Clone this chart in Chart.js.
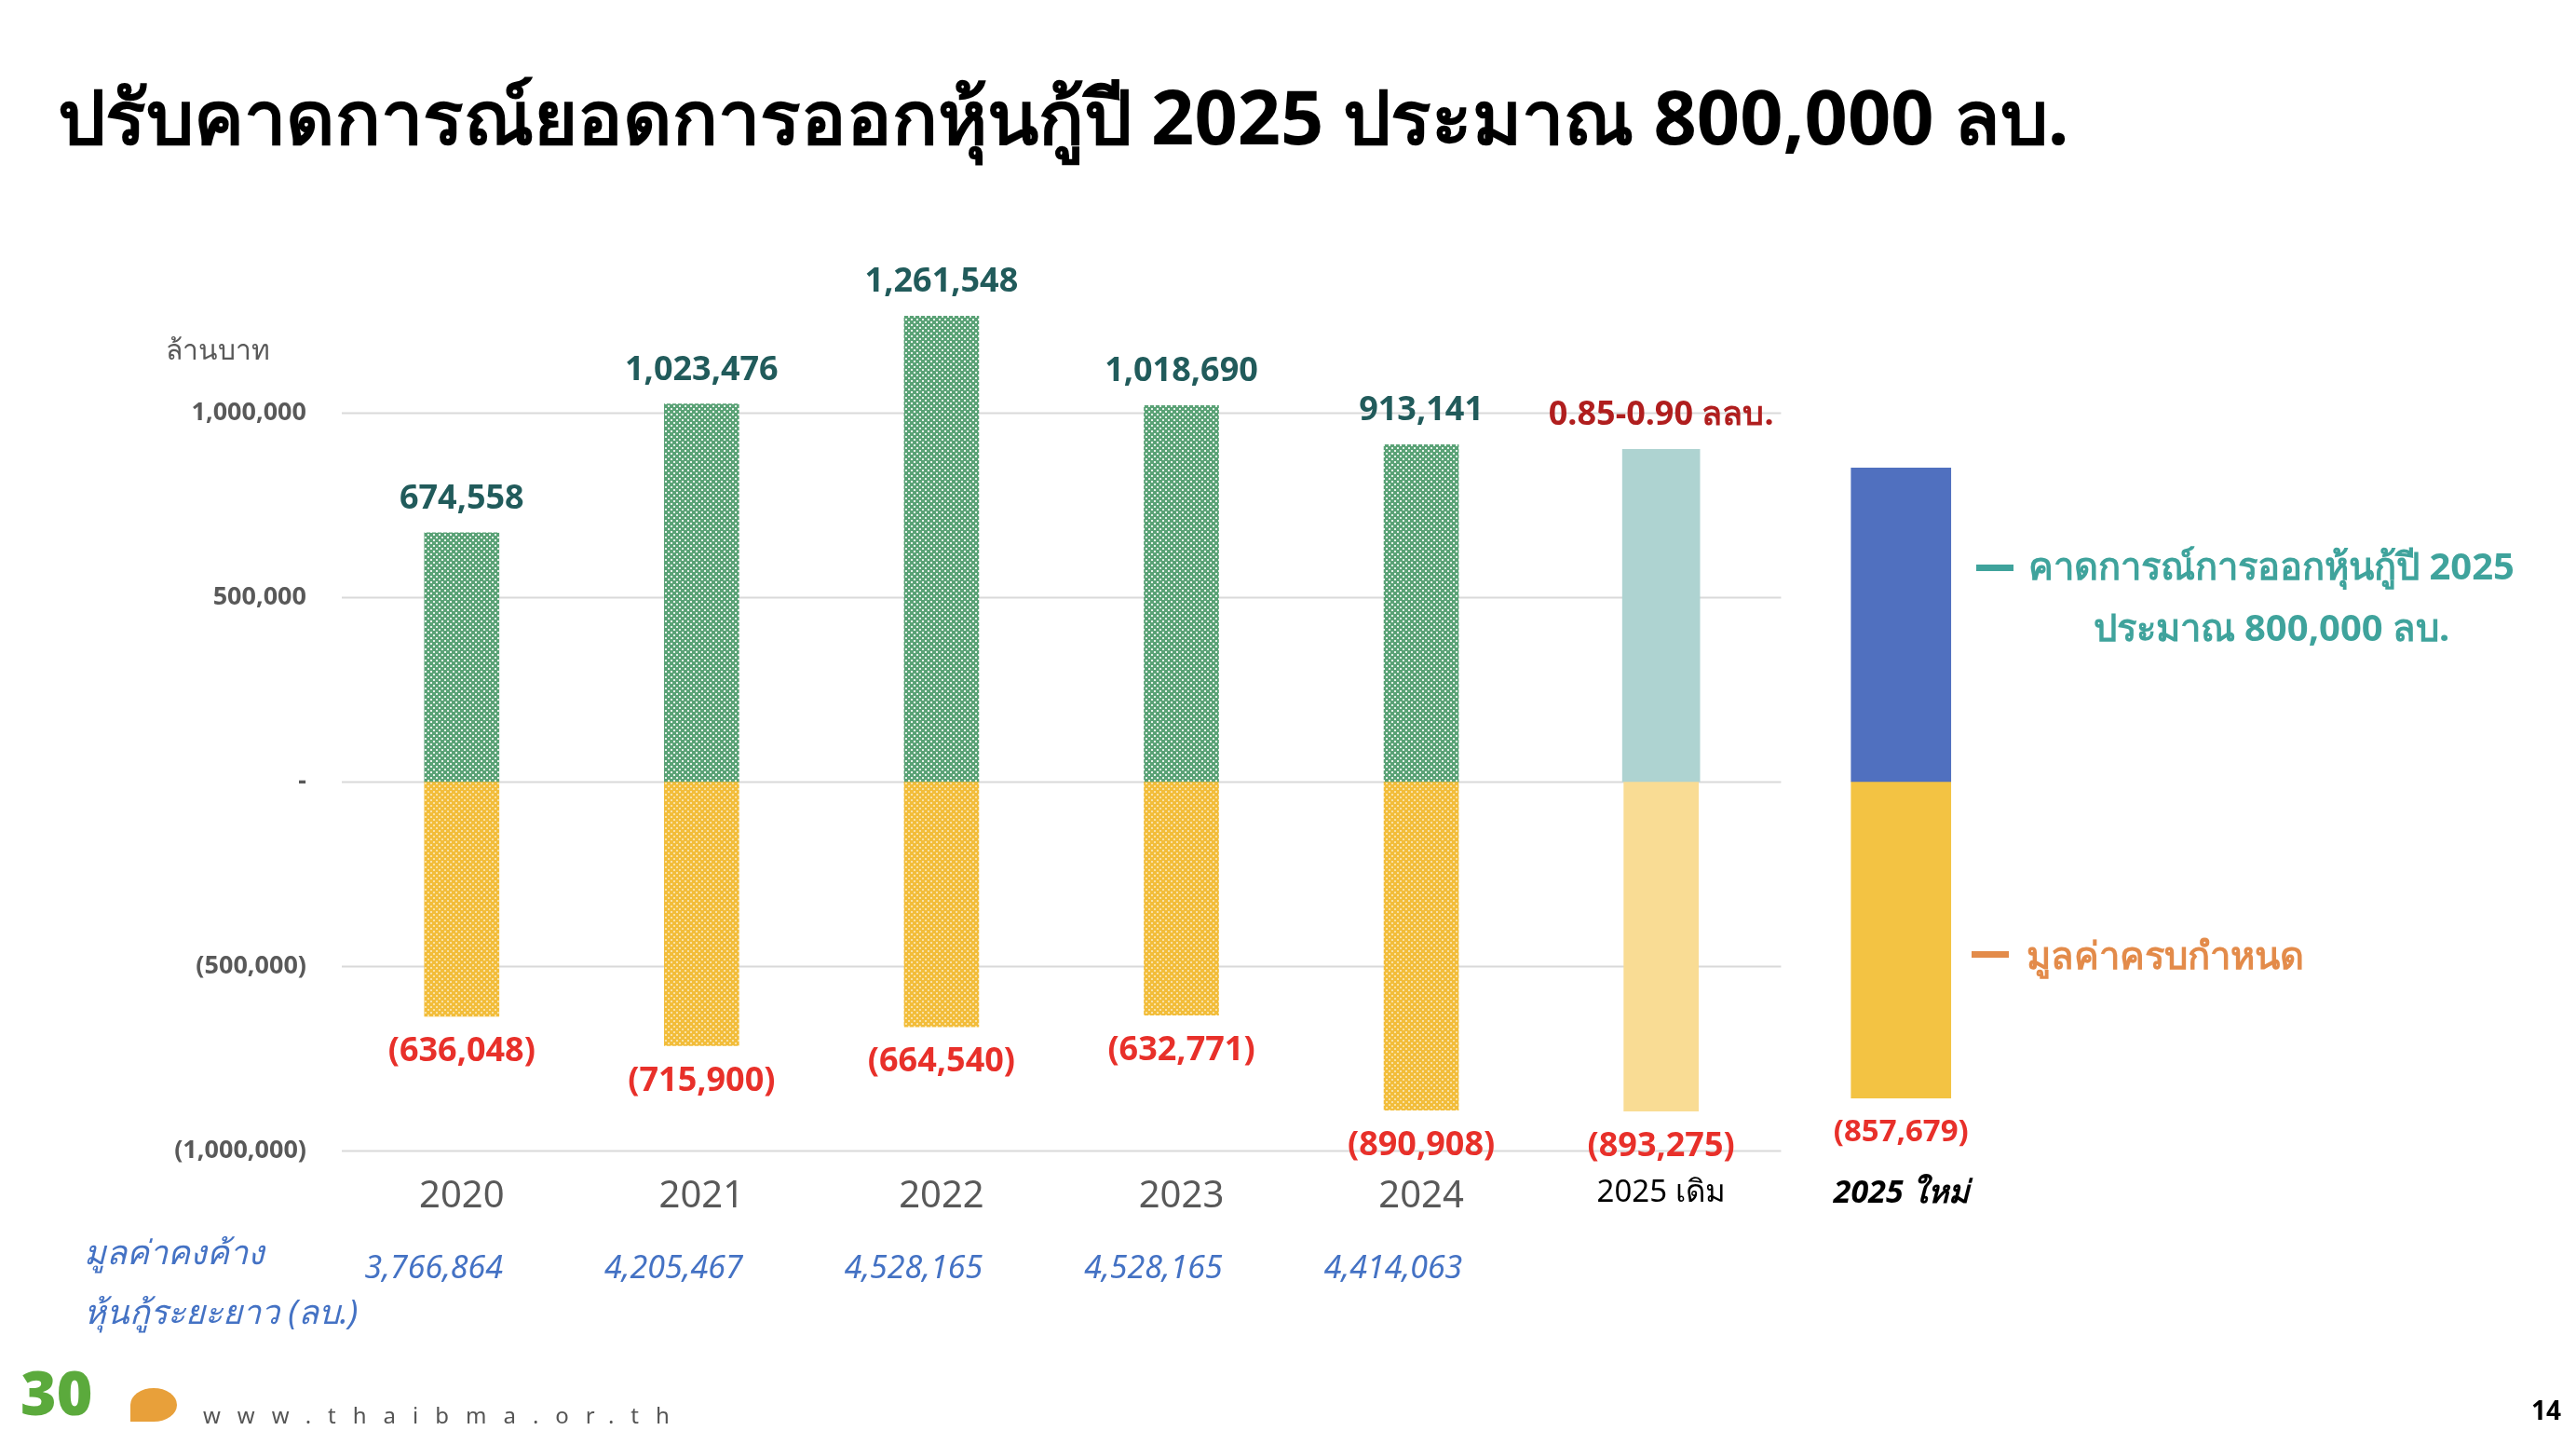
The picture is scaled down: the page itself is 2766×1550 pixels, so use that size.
<!DOCTYPE html>
<html><head><meta charset="utf-8">
<script src="https://cdn.jsdelivr.net/npm/chart.js@4"></script>
<style>
html,body{margin:0;padding:0;background:#fff;width:2766px;height:1550px;overflow:hidden;font-family:"Noto Sans",sans-serif}
#wrap{position:absolute;left:0;top:0;width:2766px;height:1550px}
.t{position:absolute;white-space:nowrap}
</style></head><body>
<div id="wrap"><canvas id="c" width="2766" height="1550"></canvas></div>
<div class="t" style="left:62px;top:62px;font-size:81px;font-weight:700;color:#000">ปรับคาดการณ์ยอดการออกหุ้นกู้ปี 2025 ประมาณ 800,000 ลบ.</div>
<div class="t" style="left:178px;top:352px;font-size:30px;color:#595959">ล้านบาท</div>
<div class="t" style="left:90px;top:1312px;font-size:36px;font-style:italic;color:#4472C4;line-height:64px">มูลค่าคงค้าง<br>หุ้นกู้ระยะยาว (ลบ.)</div>
<div class="t" style="left:2122px;top:606px;width:40px;height:7px;background:#3FA39C"></div>
<div class="t" style="left:2178px;top:574px;font-size:40px;font-weight:700;color:#3FA39C;line-height:66px;text-align:center">คาดการณ์การออกหุ้นกู้ปี 2025<br>ประมาณ 800,000 ลบ.</div>
<div class="t" style="left:2117px;top:1021px;width:40px;height:7px;background:#E38B4A"></div>
<div class="t" style="left:2176px;top:994px;font-size:40px;font-weight:700;color:#E38B4A">มูลค่าครบกำหนด</div>
<div class="t" style="left:22px;top:1448px;font-size:66px;font-weight:900;color:#5BAA3C">30</div>
<div class="t" style="left:140px;top:1490px;width:50px;height:36px;border-radius:50% 50% 50% 0;background:#E8A03A"></div>
<div class="t" style="left:218px;top:1502px;font-size:24px;color:#555;letter-spacing:18px">www.thaibma.or.th</div>
<div class="t" style="left:2718px;top:1494px;font-size:28px;font-weight:700;color:#000">14</div>
<script>
const categories=["2020","2021","2022","2023","2024","2025 เดิม","2025 ใหม่"];
const issuance=[674558,1023476,1261548,1018690,913141,null,null];
const maturity=[-636048,-715900,-664540,-632771,-890908,null,null];
const oldPlanPos=[null,null,null,null,null,900000,null];
const oldPlanNeg=[null,null,null,null,null,-893275,null];
const newPlanPos=[null,null,null,null,null,null,850000];
const newPlanNeg=[null,null,null,null,null,null,-857679];
const posLabels=["674,558","1,023,476","1,261,548","1,018,690","913,141","0.85-0.90 ลลบ.",""];
const negLabels=["(636,048)","(715,900)","(664,540)","(632,771)","(890,908)","(893,275)","(857,679)"];
const outstanding=["3,766,864","4,205,467","4,528,165","4,528,165","4,414,063"];
const yTicks=[1000000,500000,0,-500000,-1000000];

function pattern(bg,dot){const p=document.createElement('canvas');p.width=6;p.height=6;const g=p.getContext('2d');
g.fillStyle=bg;g.fillRect(0,0,6,6);g.fillStyle=dot;g.fillRect(0,0,2,2);g.fillRect(3,3,2,2);
return g.createPattern(p,'repeat');}
const ctx=document.getElementById('c').getContext('2d');
const greenPat=pattern('#5AA276','rgba(255,255,255,0.85)');
const yellowPat=pattern('#F2BD3A','rgba(255,255,255,0.55)');

const fmtY=v=>v===0?'-':(v<0?'('+Math.abs(v).toLocaleString('en-US')+')':v.toLocaleString('en-US'));

const overlay={id:'overlay',
beforeDatasetsDraw(ch){const c=ch.ctx,x=ch.scales.x,y=ch.scales.y;
 const right=x.getPixelForValue(5)+(x.getPixelForValue(1)-x.getPixelForValue(0))/2;
 c.save();c.strokeStyle='#D9D9D9';c.lineWidth=2;
 yTicks.forEach(v=>{const py=Math.round(y.getPixelForValue(v))+0.5;c.beginPath();c.moveTo(ch.chartArea.left,py);c.lineTo(right,py);c.stroke();});
 c.restore();},
afterDatasetsDraw(ch){const c=ch.ctx,x=ch.scales.x,y=ch.scales.y;c.save();c.textAlign='center';
 categories.forEach((k,i)=>{const px=x.getPixelForValue(i);
  const pv=[issuance[i],oldPlanPos[i],newPlanPos[i]].find(v=>v!=null);
  const nv=[maturity[i],oldPlanNeg[i],newPlanNeg[i]].find(v=>v!=null);
  if(posLabels[i]){c.font='700 36px "Noto Sans"';c.fillStyle=i===5?'#B01E1E':'#215B5B';c.textBaseline='alphabetic';
   c.fillText(posLabels[i],px,y.getPixelForValue(pv)-26);}
  c.font=(i===6?'700 33px':'700 36px')+' "Noto Sans"';c.fillStyle='#E8302A';c.textBaseline='top';
  c.fillText(negLabels[i],px,y.getPixelForValue(nv)+20);
  if(outstanding[i]){c.font='italic 34px "Noto Sans"';c.fillStyle='#4472C4';c.textBaseline='middle';
   c.fillText(outstanding[i],px-30,1362);}
 });c.restore();}};

new Chart(ctx,{type:'bar',
data:{labels:categories,datasets:[
 {data:issuance,backgroundColor:greenPat,barThickness:80},
 {data:maturity,backgroundColor:yellowPat,barThickness:80},
 {data:oldPlanPos,backgroundColor:'#AED3D1',barThickness:83},
 {data:oldPlanNeg,backgroundColor:'#F9DC94',barThickness:80},
 {data:newPlanPos,backgroundColor:'#5070BF',barThickness:107},
 {data:newPlanNeg,backgroundColor:'#F3C343',barThickness:107}]},
options:{responsive:false,animation:false,
 layout:{padding:{left:0,top:324,right:596,bottom:0}},
 plugins:{legend:{display:false},tooltip:{enabled:false}},
 scales:{
  x:{stacked:true,grid:{display:false},border:{display:false},
   afterFit(s){s.height=315;},
   ticks:{padding:18,
    color:c=>c.index>=5?'#000':'#595959',
    font:c=>c.index===6?{size:34,weight:'700',style:'italic',family:'Noto Sans'}:(c.index===5?{size:33,family:'Noto Sans'}:{size:40,family:'Noto Sans'})}},
  y:{stacked:true,min:-1000000,max:1300000,grid:{display:false},border:{display:false},
   afterFit(s){s.width=367;},
   afterBuildTicks(s){s.ticks=yTicks.map(v=>({value:v}));},
   ticks:{padding:30,color:'#595959',font:{size:27,weight:'700',family:'Noto Sans'},callback:v=>fmtY(v)}}}},
plugins:[overlay]});
</script></body></html>
